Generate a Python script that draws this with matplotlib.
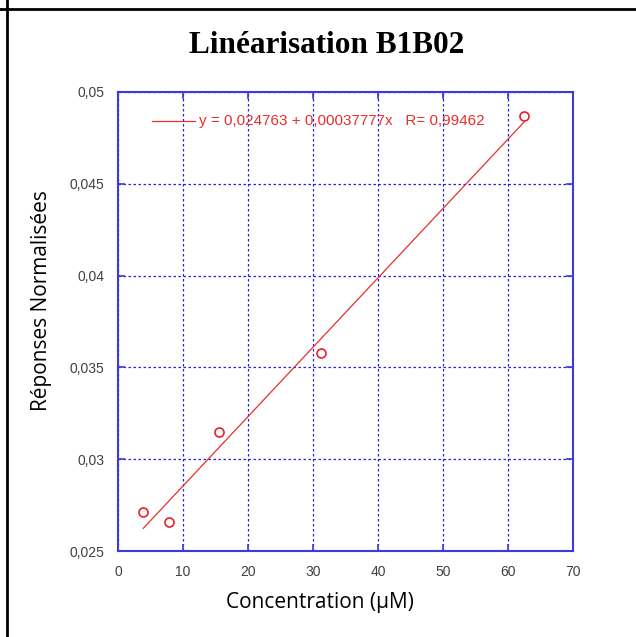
import numpy as np
import matplotlib
matplotlib.use("Agg")
from matplotlib import pyplot as plt
from matplotlib.lines import Line2D
from matplotlib.ticker import FuncFormatter

# donnees
concentration = [3.9, 7.8, 15.6, 31.25, 62.5]
reponses = [0.02712, 0.02658, 0.03148, 0.03578, 0.04869]
a0 = 0.024763
a1 = 0.00037777
r_val = 0.99462

x_ticks = [0, 10, 20, 30, 40, 50, 60, 70]
y_ticks = [0.025, 0.03, 0.035, 0.04, 0.045, 0.05]

fig = plt.figure(figsize=(6.36, 6.37), dpi=100)
ax = fig.add_axes([0.1855, 0.135, 0.7154, 0.7206])

# droite de regression
_x = np.array([concentration[0], concentration[-1]])
ax.plot(_x, a0 + a1 * _x, color="#e8302a", lw=0.9)
ax.plot(concentration, reponses, "o", mfc="none", mec="#e8202a", ms=6.5, mew=1.2)

ax.set_xlim(0, 70)
ax.set_ylim(0.025, 0.05)
ax.set_xticks(x_ticks)
ax.set_yticks(y_ticks)
ax.yaxis.set_major_formatter(FuncFormatter(lambda v, p: ("%g" % v).replace(".", ",")))
ax.tick_params(direction="in", length=5, width=1.2, color="#3a3adf", top=True, right=True,
               labelsize=10, labelcolor="#404040", pad=10)
for lab in ax.get_xticklabels() + ax.get_yticklabels():
    lab.set_fontfamily("Liberation Sans")
for s in ax.spines.values():
    s.set_color("#3a3adf")
    s.set_linewidth(1.5)
ax.grid(color="#2020e0", linestyle=(0, (2, 2)), linewidth=0.9)

# legende
ax.add_line(Line2D([0.075, 0.169], [0.937, 0.937], transform=ax.transAxes, color="#e8302a", lw=0.9))
ax.text(0.177, 0.937, "y = 0,024763 + 0,00037777x   R= 0,99462", transform=ax.transAxes,
        color="#e8302a", fontsize=11, family="Liberation Sans", va="center")

ax.set_xlabel("Concentration (µM)", fontsize=15, family="Open Sans")
ax.set_ylabel("Réponses Normalisées", fontsize=15, family="Open Sans")
ax.xaxis.set_label_coords(0.443, -0.09)
ax.yaxis.set_label_coords(-0.145, 0.545)
fig.text(0.514, 0.928, "Linéarisation B1B02", ha="center", va="center", fontsize=22.5,
         family="Liberation Serif", weight="bold")

# bordure du tableau
fig.add_artist(Line2D([0, 1], [1 - 9 / 637, 1 - 9 / 637], color="black", lw=2))
fig.add_artist(Line2D([7 / 636, 7 / 636], [0, 1], color="black", lw=2))

fig.savefig("out.png", dpi=100)
